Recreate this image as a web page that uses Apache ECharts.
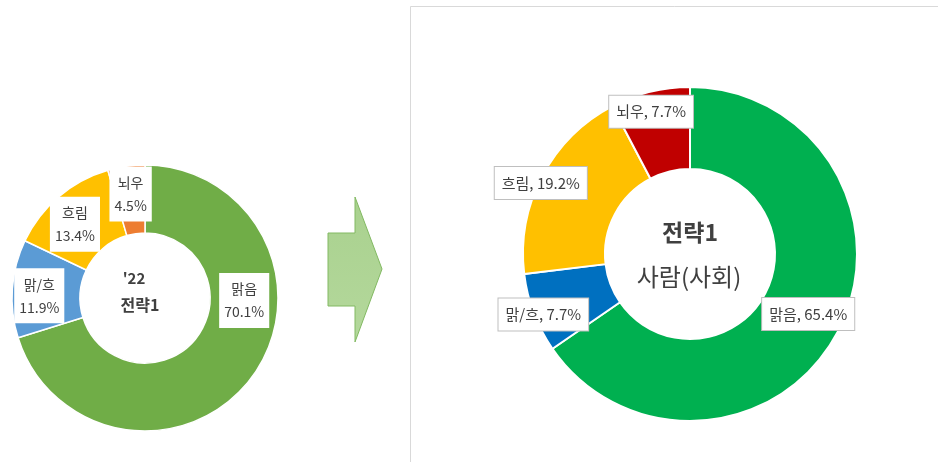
<!DOCTYPE html>
<html>
<head>
<meta charset="utf-8">
<script src="https://cdn.jsdelivr.net/npm/echarts@6.0.0/dist/echarts.min.js"></script>
<style>
html, body { margin: 0; padding: 0; background: #fff; }
#chart { width: 938px; height: 462px; }
</style>
</head>
<body>
<div id="chart"></div>
<script>
// 범주 (시계방향, 12시부터)
var categories = ['맑음', '맑/흐', '흐림', '뇌우'];
// '22 전략1 비율(%)
var before = [70.1, 11.9, 13.4, 4.5];
// 전략1 사람(사회) 비율(%)
var after = [65.4, 7.7, 19.2, 7.7];

var beforeColors = ['#70AD47', '#5B9BD5', '#FFC000', '#ED7D31'];
var afterColors = ['#00B050', '#0070C0', '#FFC000', '#C00000'];

var FONT = '"Noto Sans CJK KR", "Noto Sans", sans-serif';

function toData(vals, colors) {
    return categories.map(function (c, i) {
        return { name: c, value: vals[i], itemStyle: { color: colors[i] } };
    });
}

// Excel 라벨 위치와 맞추기 위한 미세 이동
var leftNudge = [[17, -58], [-4, 5], [-4, 4], [0, -3]];
var rightNudge = [[4, 0], [-26, 15], [-35, -11], [-8, -17]];

var myChart = echarts.init(document.getElementById('chart'));
var option = {
    backgroundColor: '#fff',
    animation: false,
    graphic: [
        { // 오른쪽 차트 영역 테두리
            type: 'rect',
            shape: { x: 410.5, y: 6.5, width: 560, height: 480 },
            style: { fill: 'none', stroke: '#D9D9D9', lineWidth: 1 }
        },
        { // 화살표
            type: 'polygon',
            shape: { points: [[328, 233], [355, 233], [355, 197], [382, 269], [355, 342], [355, 306], [328, 306]] },
            style: {
                fill: new echarts.graphic.LinearGradient(0, 0, 0, 1, [
                    { offset: 0, color: '#A9D18E' },
                    { offset: 1, color: '#B4D89C' }
                ]),
                stroke: '#82B962',
                lineWidth: 1
            }
        },
        // 가운데 제목 (x 는 글자 중심)
        {
            type: 'text', x: 134, y: 271, z: 10,
            style: { text: "'22", textAlign: 'center', fill: '#404040', font: 'bold 15px ' + FONT }
        },
        {
            type: 'text', x: 140, y: 297, z: 10,
            style: { text: '전략1', textAlign: 'center', fill: '#404040', font: 'bold 16px ' + FONT }
        },
        {
            type: 'text', x: 690, y: 221, z: 10,
            style: { text: '전략1', textAlign: 'center', fill: '#404040', font: 'bold 23px ' + FONT }
        },
        {
            type: 'text', x: 689, y: 265, z: 10,
            style: { text: '사람(사회)', textAlign: 'center', fill: '#404040', font: '24px ' + FONT }
        }
    ],
    series: [
        {
            name: "'22 전략1",
            type: 'pie',
            center: [145, 298],
            radius: [65, 133],
            startAngle: 90,
            clockwise: true,
            itemStyle: { borderColor: '#fff', borderWidth: 1.5 },
            label: {
                show: true,
                position: 'inside',
                formatter: function (p) { return p.name + '\n' + p.value.toFixed(1) + '%'; },
                color: '#404040',
                fontFamily: FONT,
                fontSize: 14,
                lineHeight: 23,
                backgroundColor: '#fff',
                padding: [5, 5, 4, 5]
            },
            labelLayout: function (p) {
                var n = leftNudge[p.dataIndex];
                return { dx: n[0], dy: n[1] };
            },
            emphasis: { disabled: true },
            data: toData(before, beforeColors)
        },
        {
            name: '전략1 사람(사회)',
            type: 'pie',
            center: [690, 254],
            radius: [85, 167],
            startAngle: 90,
            clockwise: true,
            itemStyle: { borderColor: '#fff', borderWidth: 2 },
            label: {
                show: true,
                position: 'inside',
                formatter: function (p) { return p.name + ', ' + p.value.toFixed(1) + '%'; },
                color: '#404040',
                fontFamily: FONT,
                fontSize: 15,
                backgroundColor: '#fff',
                borderColor: '#BFBFBF',
                borderWidth: 1,
                padding: [9, 7, 8, 7]
            },
            labelLayout: function (p) {
                var n = rightNudge[p.dataIndex];
                return { dx: n[0], dy: n[1] };
            },
            emphasis: { disabled: true },
            data: toData(after, afterColors)
        }
    ]
};
myChart.setOption(option);
</script>
</body>
</html>
